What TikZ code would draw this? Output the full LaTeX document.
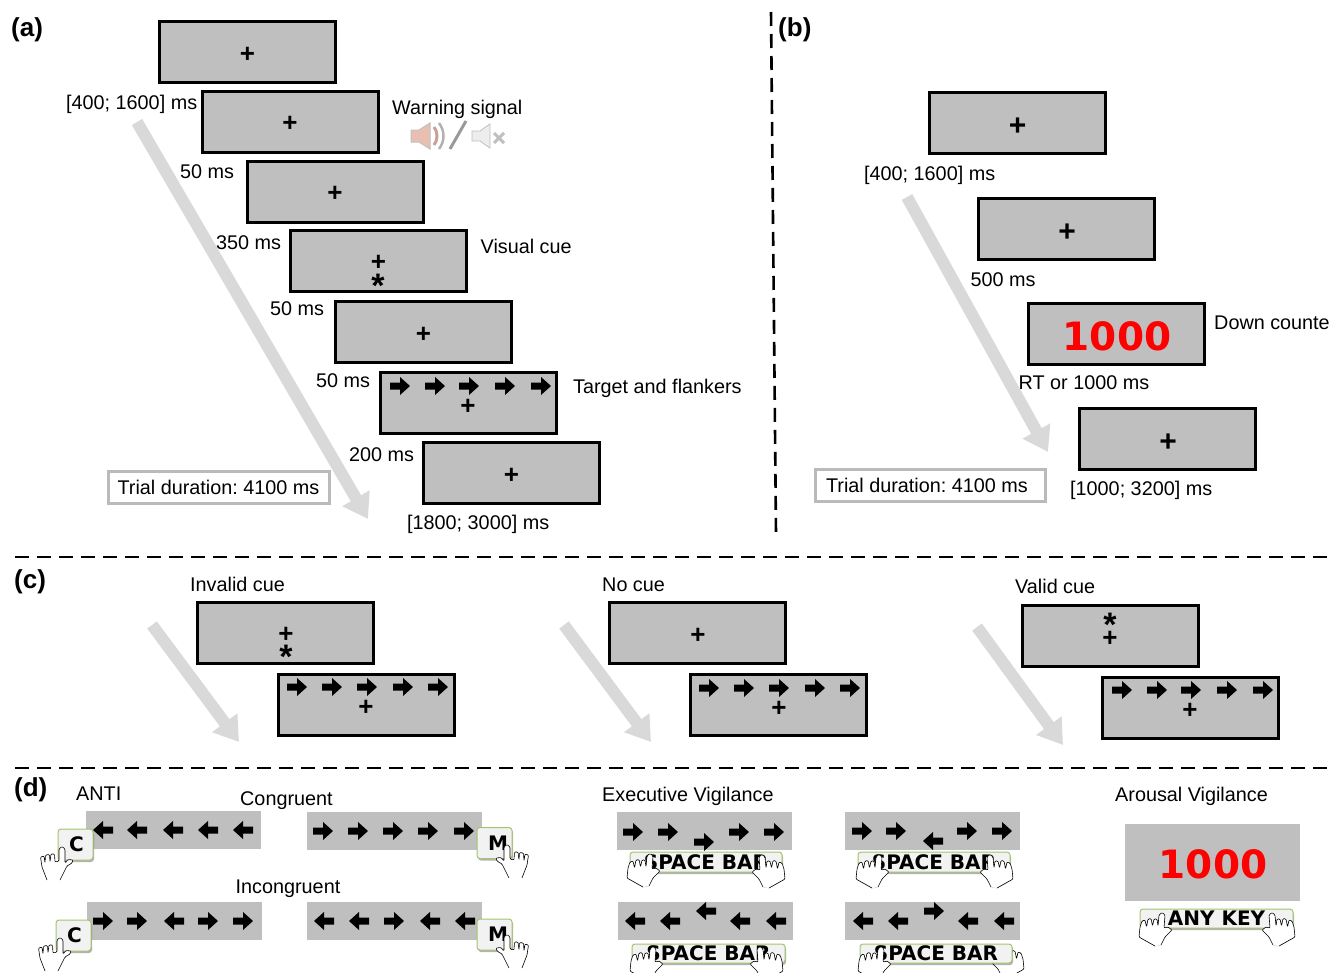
\documentclass[tikz,border=0pt]{standalone}
\usepackage{fontspec}
\setmainfont{Liberation Sans}
\newfontfamily\keyfont{DejaVu Sans}
\usepackage{tikz}
\usetikzlibrary{arrows.meta,shadows}
\definecolor{scrgray}{HTML}{BFBFBF}
\definecolor{flowgray}{HTML}{D9D9D9}
\definecolor{keygreen}{HTML}{A5C46E}
\definecolor{spkpink}{HTML}{E9BFB2}
\tikzset{
  screen/.style  = {rectangle, draw=black, line width=3pt, fill=scrgray,
                    minimum width=176pt, minimum height=61pt, inner sep=0pt},
  bar/.style     = {rectangle, fill=scrgray, minimum width=175pt, minimum height=38pt, inner sep=0pt},
  lbl/.style     = {anchor=base west, inner sep=0pt, font=\fontsize{19.8}{22}\selectfont},
  tag/.style     = {anchor=base west, inner sep=0pt, font=\fontsize{26}{28}\selectfont\bfseries},
  fix/.style     = {inner sep=0pt, yshift=-2pt, font=\fontsize{26}{28}\selectfont\bfseries},
  bigfix/.style  = {inner sep=0pt, yshift=-2pt, font=\fontsize{30}{32}\selectfont\bfseries},
  star/.style    = {inner sep=0pt, yshift=-1pt, font=\fontsize{34}{36}\selectfont\bfseries},
  count/.style   = {inner sep=0pt, text=red, font=\fontsize{39}{42}\selectfont\keyfont\bfseries},
  trial/.style   = {rectangle, draw=black!27, line width=3pt, fill=white, inner sep=0pt,
                    font=\fontsize{19.8}{22}\selectfont},
  flow/.style    = {-{Triangle[length=24pt,width=30pt]}, line width=12pt, flowgray},
  sep/.style     = {line width=2.6pt, black, dash pattern=on 14pt off 8pt},
  keybox/.style  = {rectangle, rounded corners=3pt, draw=keygreen, line width=1pt, fill=black!5,
                    inner sep=0pt, text=black, font=\fontsize{20}{22}\selectfont\keyfont\bfseries,
                    drop shadow={shadow xshift=1pt,shadow yshift=-2pt,fill=black,opacity=0.3}},
  pics/flank/.style = {code={
    \fill[black, xscale=#1] (-10,-3.5) -- (0,-3.5) -- (0,-9) -- (10,0) -- (0,9) -- (0,3.5) -- (-10,3.5) -- cycle;}},
  pics/hand/.style  = {code={
    \filldraw[fill=white, draw=black, line width=0.6pt, rounded corners=1pt, xscale=#1]
      (-15,33) -- (-20,20) -- (-21.5,10) -- (-18,9) -- (-17,16) -- (-16.5,8) -- (-12.5,7.5) -- (-12,15)
      -- (-11,7) -- (-7.5,7) -- (-7,15) -- (-3,14) -- (-3,2) -- (0,-0.5) -- (3,2) -- (3,16) -- (6,12.5)
      -- (11,13) -- (10,16) -- (5,19) -- (2,25) -- (-2,33);}},
  pics/palm/.style  = {code={
    \fill[white, xscale=#1] (-23,24) -- (-7,33) -- (-1,32) -- (3,24) -- cycle;
    \draw[black!25, line width=0.6pt, xscale=#1] (-23,24) -- (-7,33) -- (-1,32);
    \filldraw[fill=white, draw=black, line width=0.6pt, rounded corners=1pt, xscale=#1]
      (-7,33) -- (-23,24) -- (-22,14) -- (-20,8) -- (-17,7) -- (-15.5,14) -- (-14,6) -- (-11,5.5) -- (-9.5,13)
      -- (-8,6) -- (-5,6) -- (-4,13) -- (-3,2) -- (0,-0.5) -- (3,2) -- (2,15) -- (6,14)
      -- (10,17) -- (7,20) -- (3,24) -- (-1,32);}},
}
\begin{document}
\frenchspacing
\begin{tikzpicture}[x=1pt,y=-1pt]
  \useasboundingbox (0,0) rectangle (1330,972);

  % separators
  \coordinate (vtop) at (771,12);
  \coordinate (vbot) at (776,534);
  \coordinate (h1l) at (15,557);
  \coordinate (h1r) at (1330,557);
  \coordinate (h2l) at (15,768);
  \coordinate (h2r) at (1330,768);
  \draw[sep] (vtop) -- (vbot);
  \draw[sep] (h1l) -- (h1r);
  \draw[sep] (h2l) -- (h2r);

  \node[tag] (taga) at (11,36) {(a)};
  \node[tag] (tagb) at (778,36) {(b)};
  \node[tag] (tagc) at (14,588) {(c)};
  \node[tag] (tagd) at (14,796) {(d)};

  % panel a
  \coordinate (af) at (137,122);
  \coordinate (at) at (368,519);
  \draw[flow] (af) -- (at);
  \foreach \n/\x/\y in {a1/247.5/52, a2/290.5/122, a3/335/192, a4/378.5/261, a5/423.5/332, a6/468.5/403, a7/511.5/473} {
    \node[screen] (\n) at (\x,\y) {};
  }
  \foreach \n/\x/\y in {fa1/247.5/53, fa2/290/122, fa3/335/192, fa4/378.5/261, fa5/423.5/333, fa6/468/405, fa7/511.5/474} {
    \node[fix] (\n) at (\x,\y) {+};
  }
  \node[star] (sa4) at (378,285) {*};
  \foreach \x in {400,435,469,505,541} {
    \pic at (\x,386) {flank=1};
  }
  \node[lbl] (la1) at (66,109) {[400; 1600] ms};
  \node[lbl] (la2) at (180,178) {50 ms};
  \node[lbl] (la3) at (216,249) {350 ms};
  \node[lbl] (la4) at (270,315) {50 ms};
  \node[lbl] (la5) at (316,387) {50 ms};
  \node[lbl] (la6) at (349,461) {200 ms};
  \node[lbl] (la7) at (407,529) {[1800; 3000] ms};
  \node[lbl] (warn) at (392,114) {Warning signal};
  \node[lbl] (vis) at (480.5,253) {Visual cue};
  \node[lbl] (targ) at (573,393.5) {Target and flankers};
  \node[trial, minimum width=221pt, minimum height=32pt] (triala) at (218.5,487.5) {Trial duration: 4100 ms};

  % warning icons
  \filldraw[fill=spkpink, draw=black!25, line width=1pt]
    (411,130) -- (419,130) -- (430,123) -- (430,149) -- (419,142) -- (411,142) -- cycle;
  \draw[spkpink!85!black, line width=3pt] (434,127) .. controls (438,132) and (438,140) .. (434,145);
  \draw[black!30, line width=2.5pt] (439,123) .. controls (445,131) and (445,141) .. (439,149);
  \draw[black!40, line width=3pt] (466,121) -- (450,149);
  \filldraw[fill=black!7, draw=black!25, line width=0.8pt]
    (472,131) -- (480,131) -- (490,124) -- (490,148) -- (480,141) -- (472,141) -- cycle;
  \draw[black!25, line width=3pt] (494,133) -- (504,143) (504,133) -- (494,143);

  % panel b
  \coordinate (bf) at (907,197);
  \coordinate (bt) at (1048,452);
  \draw[flow] (bf) -- (bt);
  \foreach \n/\x/\y in {b1/1017.5/123, b2/1066.5/228.5, b3/1116.5/334, b4/1167.5/439} {
    \node[screen] (\n) at (\x,\y) {};
  }
  \node[bigfix] (fb1) at (1017.5,125) {+};
  \node[bigfix] (fb2) at (1067,231) {+};
  \node[bigfix] (fb4) at (1168,441) {+};
  \node[count] (cnt1) at (1117,336) {1000};
  \node[lbl] (lb1) at (864,180.5) {[400; 1600] ms};
  \node[lbl] (lb2) at (970.5,286.5) {500 ms};
  \node[lbl] (lb3) at (1018.5,389.5) {RT or 1000 ms};
  \node[lbl] (lb4) at (1070,495.5) {[1000; 3200] ms};
  \node[lbl] (down) at (1214,329) {Down counte};
  \node[trial, minimum width=230pt, minimum height=32pt] (trialb) at (930,485) {\hspace*{-6pt}Trial duration: 4100 ms};

  % panel c
  \foreach \n/\x/\y/\e/\f in {c/152/625/239/742, d/564/625/651/742, e/977/627/1063/745} {
    \coordinate (\n f) at (\x,\y);
    \coordinate (\n t) at (\e,\f);
    \draw[flow] (\n f) -- (\n t);
  }
  \foreach \n/\x/\y in {c1/285.5/632.5, c2/366.5/704.5, c3/697.5/633, c4/778.5/704.5, c5/1110.5/635.5, c6/1190.5/707.5} {
    \node[screen] (\n) at (\x,\y) {};
  }
  \foreach \n/\x/\y in {fc1/286/633, fc2/366/706, fc3/698/634, fc4/779/707, fc5/1110/637, fc6/1190/709} {
    \node[fix] (\n) at (\x,\y) {+};
  }
  \node[star] (sc1) at (286,656) {*};
  \node[star] (sc5) at (1110,624) {*};
  \foreach \x/\y in {297/687,332/687,367/687,403/687,438/687,
                     709/688,744/688,779/688,815/688,850/688,
                     1122/690,1157/690,1191/690,1227/690,1263/690} {
    \pic at (\x,\y) {flank=1};
  }
  \node[lbl] (lc1) at (190,591) {Invalid cue};
  \node[lbl] (lc2) at (602,591.5) {No cue};
  \node[lbl] (lc3) at (1015,593.5) {Valid cue};

  % panel d
  \node[lbl] (anti) at (76,800) {ANTI};
  \node[lbl] (cong) at (240,805.5) {Congruent};
  \node[lbl] (incong) at (235.5,893.5) {Incongruent};
  \node[lbl] (exec) at (602,801.5) {Executive Vigilance};
  \node[lbl] (arou) at (1115,801.5) {Arousal Vigilance};
  \foreach \n/\x/\y in {d1/173.5/830, d2/394.5/830.5, d3/174/921, d4/394.5/921,
                        e1/704.5/831, e2/932.5/830.5, e3/705.5/920.5, e4/932.5/920.5} {
    \node[bar] (\n) at (\x,\y) {};
  }
  \node[bar, minimum height=77pt] (e5) at (1212.5,862.5) {};
  \node[count] (cnt2) at (1213,864) {1000};
  \foreach \x/\y/\d in {103/830/-1,137/830/-1,173/830/-1,208/830/-1,243/830/-1,
                        323/831/1,358/831/1,393/831/1,428/831/1,464/831/1,
                        103/921/1,137/921/1,174/921/-1,208/921/1,243/921/1,
                        324/921/-1,359/921/-1,394/921/1,430/921/-1,465/921/-1,
                        633/832/1,668/832/1,704/842/1,739/832/1,774/832/1,
                        862/831/1,896/831/1,933/841/-1,967/831/1,1002/831/1,
                        635/921/-1,670/921/-1,706/911/-1,740/921/-1,776/921/-1,
                        863/921/-1,898/921/-1,934/911/1,968/921/-1,1004/921/-1} {
    \pic at (\x,\y) {flank=\d};
  }
  \pic at (1001,945) {palm=-1};
  \foreach \n/\x/\y/\w/\h/\t in {k1/75.5/844.5/35/31/\hspace*{2pt}C, k2/73.5/935.5/35/31/\hspace*{2pt}C,
                                 k3/494.5/843/35/31/\hspace*{7pt}M, k4/494.5/934.5/35/31/\hspace*{7pt}M} {
    \node[keybox, minimum width=\w pt, minimum height=\h pt] (\n) at (\x,\y) {\t};
  }
  \foreach \n/\x/\y/\w/\h/\t in {s1/706/862/152/20/SPACE BAR, s2/934/862/152/20/SPACE BAR,
                                 s3/708.5/953.5/153/19/SPACE BAR, s4/936/953.5/152/19/SPACE BAR,
                                 s5/1216.5/918.5/153/19/ANY KEY} {
    \node[keybox, minimum width=\w pt, minimum height=\h pt] (\n) at (\x,\y) {\raisebox{-1pt}{\t}};
  }
  \foreach \x/\y in {62/847, 60/938} {
    \pic at (\x,\y) {hand=1};
  }
  \foreach \x/\y in {507/845, 507/935} {
    \pic at (\x,\y) {hand=-1};
  }
  \foreach \x/\y/\d in {650/854/1, 879/855/1, 653/947/1, 881/947/1, 1162/913/1,
                        762/855/-1, 990/855/-1, 760/947/-1, 1272/913/-1} {
    \pic at (\x,\y) {palm=\d};
  }
\end{tikzpicture}
\end{document}
